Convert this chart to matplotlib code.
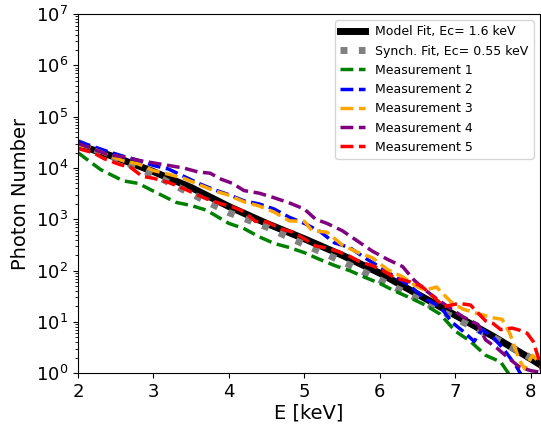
import numpy as np
import matplotlib
matplotlib.use("Agg")
import matplotlib.pyplot as plt

# values: energy [keV] and log10(photon number)
model_e = [2.0, 2.5, 3.0, 3.5, 4.0, 4.5, 5.0, 5.5, 6.0, 6.5, 7.0, 7.5, 8.0, 8.15]
model_log = [4.45, 4.21, 3.93, 3.62, 3.25, 2.92, 2.62, 2.30, 1.95, 1.54, 1.13, 0.72, 0.28, 0.14]

synch_e = [2.0, 2.5, 3.0, 3.5, 4.0, 4.5, 5.0, 5.5, 6.0, 6.5, 7.0, 7.5, 8.0, 8.15]
synch_log = [4.50, 4.19, 3.87, 3.50, 3.13, 2.85, 2.51, 2.18, 1.82, 1.45, 1.07, 0.70, 0.30, 0.17]

m1_e = [2.0, 2.3, 2.6, 2.8, 3.0, 3.3, 3.5, 3.7, 4.0, 4.2, 4.4, 4.6, 4.8, 5.0, 5.2,
        5.4, 5.6, 5.8, 6.0, 6.2, 6.4, 6.6, 6.8, 7.0, 7.2, 7.4, 7.6, 7.75]
m1_log = [4.30, 3.97, 3.75, 3.70, 3.55, 3.33, 3.27, 3.18, 2.92, 2.82, 2.66, 2.53, 2.45, 2.35, 2.22,
          2.10, 2.00, 1.87, 1.75, 1.60, 1.47, 1.33, 1.15, 0.82, 0.62, 0.35, 0.22, -0.1]

m2_e = [2.0, 2.2, 2.4, 2.6, 2.8, 3.0, 3.2, 3.4, 3.6, 3.8, 4.0, 4.2, 4.4, 4.6, 4.8, 5.0, 5.2,
        5.4, 5.6, 5.8, 6.0, 6.2, 6.4, 6.6, 6.8, 6.95, 7.1, 7.25, 7.35, 7.5, 7.65, 7.8, 7.9]
m2_log = [4.52, 4.42, 4.32, 4.23, 4.15, 4.05, 3.98, 3.84, 3.70, 3.58, 3.48, 3.36, 3.30, 3.20, 3.04, 2.92, 2.77,
          2.54, 2.45, 2.25, 2.07, 1.88, 1.70, 1.45, 1.30, 1.00, 0.82, 0.62, 0.85, 0.70, 0.45, 0.15, -0.1]

m3_e = [2.0, 2.2, 2.4, 2.6, 2.8, 3.0, 3.2, 3.4, 3.6, 3.8, 4.0, 4.2, 4.4, 4.6, 4.8, 5.0, 5.1,
        5.3, 5.5, 5.7, 5.9, 6.1, 6.3, 6.5, 6.6, 6.75, 6.95, 7.1, 7.3, 7.5, 7.62, 7.72, 7.85,
        7.92, 8.02, 8.12]
m3_log = [4.45, 4.38, 4.25, 4.14, 4.08, 3.95, 3.88, 3.80, 3.68, 3.56, 3.47, 3.34, 3.26, 3.14, 2.97, 2.96, 2.78,
          2.75, 2.50, 2.36, 2.25, 2.02, 1.88, 1.68, 1.62, 1.68, 1.38, 1.25, 1.16, 1.08, 1.05, 0.78, 0.25,
          0.08, 0.35, 0.20]

m4_e = [2.0, 2.2, 2.4, 2.6, 2.8, 3.0, 3.2, 3.4, 3.6, 3.75, 3.9, 4.05, 4.2, 4.4, 4.6, 4.8, 5.0,
        5.15, 5.3, 5.5, 5.7, 5.9, 6.1, 6.3, 6.45, 6.6, 6.8, 6.95, 7.1, 7.3, 7.4, 7.55, 7.7,
        7.85, 8.0, 8.12]
m4_log = [4.48, 4.37, 4.26, 4.22, 4.15, 4.10, 4.05, 4.00, 3.92, 3.90, 3.78, 3.70, 3.56, 3.51, 3.42, 3.32, 3.20,
          3.00, 2.92, 2.78, 2.58, 2.38, 2.22, 2.08, 1.82, 1.62, 1.40, 1.25, 1.10, 0.95, 0.65, 0.49, 0.30,
          0.12, 0.05, 0.02]

m5_e = [2.0, 2.2, 2.35, 2.55, 2.7, 2.85, 3.0, 3.2, 3.4, 3.55, 3.7, 3.9, 4.05, 4.2, 4.35, 4.5,
        4.7, 4.85, 5.0, 5.15, 5.3, 5.45, 5.6, 5.75, 5.9, 6.05, 6.2, 6.4, 6.55, 6.7, 6.85, 7.05,
        7.2, 7.4, 7.5, 7.6, 7.75, 7.85, 7.95, 8.03, 8.1, 8.15]
m5_log = [4.38, 4.30, 4.18, 4.07, 4.01, 3.84, 3.80, 3.72, 3.60, 3.50, 3.40, 3.30, 3.24, 3.15, 2.96, 2.95,
          2.81, 2.75, 2.62, 2.48, 2.44, 2.37, 2.28, 2.16, 2.10, 1.99, 1.86, 1.78, 1.70, 1.50, 1.30, 1.36,
          1.33, 1.02, 0.97, 0.85, 0.88, 0.84, 0.78, 0.62, 0.30, 0.0]

labels = ['Model Fit, Ec= 1.6 keV', 'Synch. Fit, Ec= 0.55 keV', 'Measurement 1',
          'Measurement 2', 'Measurement 3', 'Measurement 4', 'Measurement 5']
meas_colors = ['green', 'blue', 'orange', 'purple', 'red']

fig = plt.figure(figsize=(5.41, 4.28), dpi=100)
ax = fig.add_axes([0.144, 0.128, 0.854, 0.839])

ax.plot(model_e, 10 ** np.array(model_log), color='black', lw=5, label=labels[0])
ax.plot(synch_e, 10 ** np.array(synch_log), color='grey', lw=5, ls=':', label=labels[1])

meas = [(m1_e, m1_log), (m2_e, m2_log), (m3_e, m3_log), (m4_e, m4_log), (m5_e, m5_log)]
for (e, lg), c, lab in zip(meas, meas_colors, labels[2:]):
    ax.plot(e, 10 ** np.array(lg), color=c, lw=2.5, ls='--', label=lab)

ax.set_yscale('log')
ax.set_xlim(2, 8.12)
ax.set_ylim(1, 1e7)
ax.set_xticks([2, 3, 4, 5, 6, 7, 8])
ax.tick_params(labelsize=13)
ax.set_xlabel('E [keV]', fontsize=14, labelpad=2)
ax.set_ylabel('Photon Number', fontsize=14)
ax.legend(loc='upper right', fontsize=9)

fig.savefig('out.png', dpi=100)
